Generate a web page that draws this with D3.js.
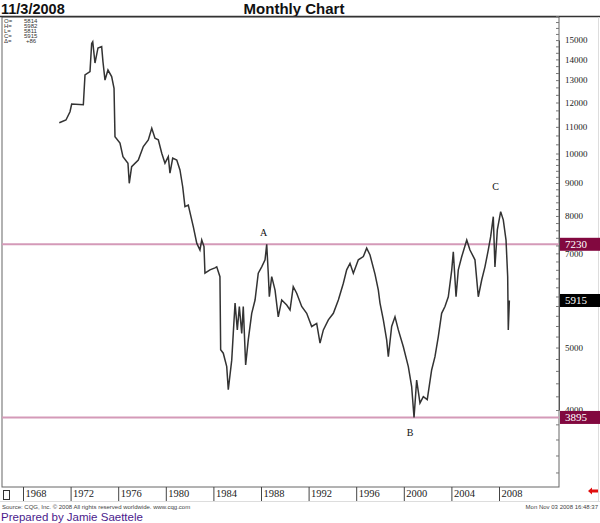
<!DOCTYPE html>
<html>
<head>
<meta charset="utf-8">
<script src="https://cdn.jsdelivr.net/npm/d3@7"></script>
<style>
body { margin: 0; background: #fff; }
</style>
</head>
<body>
<div id="chart"></div>
<script>
// monthly chart, values (decimal year, price)
const dates = [1971.05, 1971.61, 1971.95, 1972.09, 1973.07, 1973.21, 1973.63, 1973.77, 1973.86, 1974.05,
    1974.30, 1974.61, 1974.72, 1974.89, 1975.14, 1975.45, 1975.65, 1975.73, 1976.15, 1976.40,
    1976.82, 1976.93, 1977.13, 1977.69, 1978.11, 1978.53, 1978.82, 1979.09, 1979.37, 1979.66,
    1979.93, 1980.21, 1980.35, 1980.58, 1980.92, 1981.19, 1981.42, 1981.61, 1981.89, 1982.31,
    1982.60, 1982.87, 1983.02, 1983.21, 1983.29, 1983.71, 1984.13, 1984.28, 1984.55, 1984.61,
    1984.83, 1985.12, 1985.25, 1985.54, 1985.67, 1985.82, 1986.01, 1986.18, 1986.38, 1986.51,
    1986.71, 1986.93, 1987.22, 1987.50, 1987.77, 1988.06, 1988.34, 1988.48, 1988.61, 1988.70,
    1988.90, 1989.18, 1989.45, 1989.74, 1990.16, 1990.44, 1990.71, 1991.00, 1991.42, 1991.84,
    1992.26, 1992.68, 1992.96, 1993.24, 1993.66, 1994.08, 1994.50, 1994.92, 1995.20, 1995.48,
    1995.76, 1996.18, 1996.60, 1996.88, 1997.16, 1997.58, 1997.86, 1998.00, 1998.28, 1998.56,
    1998.70, 1998.98, 1999.26, 1999.54, 1999.96, 2000.38, 2000.66, 2000.86, 2001.08, 2001.36,
    2001.64, 2001.97, 2002.34, 2002.62, 2002.90, 2003.18, 2003.46, 2003.74, 2004.03, 2004.16,
    2004.39, 2004.58, 2004.87, 2005.29, 2005.56, 2005.98, 2006.26, 2006.55, 2006.82, 2007.10,
    2007.30, 2007.52, 2007.66, 2007.86, 2008.14, 2008.36, 2008.59, 2008.73, 2008.78, 2008.87];
const values = [11160, 11270, 11610, 11935, 11900, 13240, 13400, 14820, 14910, 13815,
    14580, 14650, 13880, 13000, 13475, 13160, 12625, 10620, 10380, 9890,
    9660, 8990, 9540, 9770, 10250, 10500, 10940, 10560, 10500, 10010,
    9660, 9890, 9320, 9840, 9770, 9430, 8880, 8270, 8320, 7700,
    7260, 7085, 7340, 7170, 6520, 6600, 6645, 6670, 6440, 4960,
    4900, 4670, 4300, 4780, 5260, 5860, 5325, 5790, 5260, 5790,
    4700, 5140, 5650, 5925, 6520, 6670, 6840, 7230, 6520, 5995,
    6440, 6140, 5580, 5925, 5820, 5720, 6215, 6070, 5790, 5650,
    5390, 5450, 5080, 5325, 5520, 5650, 5925, 6290, 6600, 6755,
    6520, 6840, 6920, 7130, 6960, 6500, 6140, 5860, 5520, 5140,
    4840, 5390, 5580, 5325, 5015, 4670, 4350, 3895, 4450, 4100,
    4195, 4150, 4615, 4840, 5200, 5650, 5790, 5995, 6600, 7040,
    5995, 6600, 6920, 7340, 7085, 6840, 5995, 6370, 6670, 7085,
    7430, 7980, 6670, 7610, 8125, 7890, 7340, 6440, 5325, 5915];

const yearTicks = [1968, 1972, 1976, 1980, 1984, 1988, 1992, 1996, 2000, 2004, 2008];
const priceTicks = [4000, 5000, 7000, 8000, 9000, 10000, 11000, 12000, 13000, 14000, 15000];
const levels = [7230, 3895];
const lastPrice = 5915;

const waveNames = ["A", "B", "C"];
const waveDates = [1988.48, 2000.86, 2008.14];
const waveValues = [7230, 3895, 8125];

const infoLabels = ["O=", "H=", "L=", "C=", "\u0394="];
const infoValues = ["5814", "5982", "5811", "5915", "+86"];

const W = 600, H = 523;
const plot = {l: 2, r: 559, t: 17, b: 487};

const svg = d3.select("#chart").append("svg")
    .attr("width", W)
    .attr("height", H)
    .style("display", "block");

svg.append("rect").attr("width", W).attr("height", H).attr("fill", "#fff");

const x = d3.scaleLinear().domain([1968, 2008]).range([23, 499]);
const y = d3.scaleLog().domain([15000, 4000]).range([40, 410]);

// titles
svg.append("text")
    .attr("x", 1).attr("y", 14)
    .attr("font-family", "Liberation Sans, Arial, sans-serif")
    .attr("font-weight", "bold").attr("font-size", 14.5)
    .attr("fill", "#111")
    .text("11/3/2008");
svg.append("text")
    .attr("x", 294).attr("y", 14)
    .attr("text-anchor", "middle")
    .attr("font-family", "Liberation Sans, Arial, sans-serif")
    .attr("font-weight", "bold").attr("font-size", 15)
    .attr("fill", "#111")
    .text("Monthly Chart");

// frame
svg.append("rect")
    .attr("x", plot.l).attr("y", plot.t)
    .attr("width", plot.r - plot.l).attr("height", plot.b - plot.t)
    .attr("fill", "none").attr("stroke", "#666").attr("stroke-width", 1);
svg.append("line")
    .attr("x1", 0).attr("x2", W).attr("y1", 16.5).attr("y2", 16.5)
    .attr("stroke", "#333").attr("stroke-width", 1.5);
svg.append("line")
    .attr("x1", 598.5).attr("x2", 598.5).attr("y1", 17).attr("y2", 501)
    .attr("stroke", "#ddd");

// horizontal levels
svg.selectAll(".level").data(levels).enter().append("line")
    .attr("class", "level")
    .attr("x1", plot.l).attr("x2", plot.r)
    .attr("y1", d => y(d)).attr("y2", d => y(d))
    .attr("stroke", "#d49ab8").attr("stroke-width", 2);

// price line
const line = d3.line()
    .x((d, i) => x(dates[i]))
    .y(d => y(d));
svg.append("path")
    .attr("d", line(values))
    .attr("fill", "none")
    .attr("stroke", "#333")
    .attr("stroke-width", 1.5)
    .attr("stroke-linejoin", "miter");

// wave labels
const waveOffsets = [[-3, -8], [-4, 19], [-5, -22]];
svg.selectAll(".wave").data(waveNames).enter().append("text")
    .attr("class", "wave")
    .attr("x", (d, i) => x(waveDates[i]) + waveOffsets[i][0])
    .attr("y", (d, i) => y(waveValues[i]) + waveOffsets[i][1])
    .attr("text-anchor", "middle")
    .attr("font-family", "Liberation Serif, Times New Roman, serif")
    .attr("font-size", 10)
    .attr("fill", "#111")
    .text(d => d);

// right price axis
const minorTicks = d3.range(3200, 10000, 200).concat(d3.range(10000, 16400, 333));
svg.append("g")
    .attr("transform", `translate(${plot.r},0)`)
    .call(d3.axisLeft(y).tickValues(minorTicks).tickSize(3).tickFormat(""))
    .call(g => g.select(".domain").remove())
    .selectAll("line").attr("stroke", "#777");
const yAxis = svg.append("g")
    .attr("transform", `translate(${plot.r},0)`)
    .call(d3.axisRight(y).tickValues(priceTicks).tickSize(0).tickPadding(6).tickFormat(d3.format("d")));
yAxis.select(".domain").attr("stroke", "#555");
yAxis.selectAll("text")
    .attr("font-family", "Liberation Serif, Times New Roman, serif")
    .attr("font-size", 9)
    .attr("fill", "#222");

// price tags drawn over the axis labels, as in the original
const tags = [
    {v: levels[0], fill: "#82083f"},
    {v: levels[1], fill: "#82083f"},
    {v: lastPrice, fill: "#000"}
];
const tag = svg.selectAll(".tag").data(tags).enter().append("g")
    .attr("class", "tag")
    .attr("transform", d => `translate(${plot.r + 1},${y(d.v)})`);
tag.append("rect")
    .attr("x", 0).attr("y", -6.5)
    .attr("width", 40).attr("height", 13)
    .attr("fill", d => d.fill);
tag.append("text")
    .attr("x", 5).attr("y", 4)
    .attr("font-family", "Liberation Serif, Times New Roman, serif")
    .attr("font-size", 11)
    .attr("fill", "#fff")
    .text(d => d.v);

// bottom year axis
const xAxis = svg.append("g")
    .attr("transform", `translate(0,${plot.b})`)
    .call(d3.axisBottom(x).tickValues(yearTicks).tickSize(14).tickFormat(d3.format("d")));
xAxis.select(".domain").remove();
xAxis.selectAll("line").attr("stroke", "#444");
xAxis.selectAll("text")
    .attr("x", 2).attr("y", 3)
    .attr("text-anchor", "start")
    .attr("font-family", "Liberation Serif, Times New Roman, serif")
    .attr("font-size", 10.5)
    .attr("fill", "#222");
svg.append("line")
    .attr("x1", 0).attr("x2", W).attr("y1", 501.5).attr("y2", 501.5)
    .attr("stroke", "#ddd");
svg.append("rect")
    .attr("x", 3.5).attr("y", 490.5).attr("width", 6).attr("height", 9)
    .attr("fill", "none").attr("stroke", "#333");

// red arrow
svg.append("path")
    .attr("d", "M588,491 L592,487.5 L592,489.5 L598,489.5 L598,492.5 L592,492.5 L592,494.5 Z")
    .attr("fill", "#e01010");

// info box
const info = svg.append("g")
    .attr("font-family", "Liberation Sans, Arial, sans-serif")
    .attr("font-size", 6)
    .attr("fill", "#333");
infoLabels.forEach((lab, i) => {
    info.append("text").attr("x", 4).attr("y", 23 + i * 5).text(lab);
    info.append("text").attr("x", i === 4 ? 26 : 24).attr("y", 23 + i * 5).text(infoValues[i]);
});

// footer
svg.append("text")
    .attr("x", 2).attr("y", 509)
    .attr("font-family", "Liberation Sans, Arial, sans-serif")
    .attr("font-size", 6)
    .attr("fill", "#444")
    .text("Source: CQG, Inc. \u00a9 2008 All rights reserved worldwide. www.cqg.com");
svg.append("text")
    .attr("x", 598).attr("y", 509)
    .attr("text-anchor", "end")
    .attr("font-family", "Liberation Sans, Arial, sans-serif")
    .attr("font-size", 6)
    .attr("fill", "#444")
    .text("Mon Nov 03 2008 16:48:37");
svg.append("text")
    .attr("x", 1).attr("y", 521)
    .attr("font-family", "Liberation Sans, Arial, sans-serif")
    .attr("font-size", 11.5)
    .attr("fill", "#4b1a8c")
    .text("Prepared by Jamie Saettele");
</script>
</body>
</html>
